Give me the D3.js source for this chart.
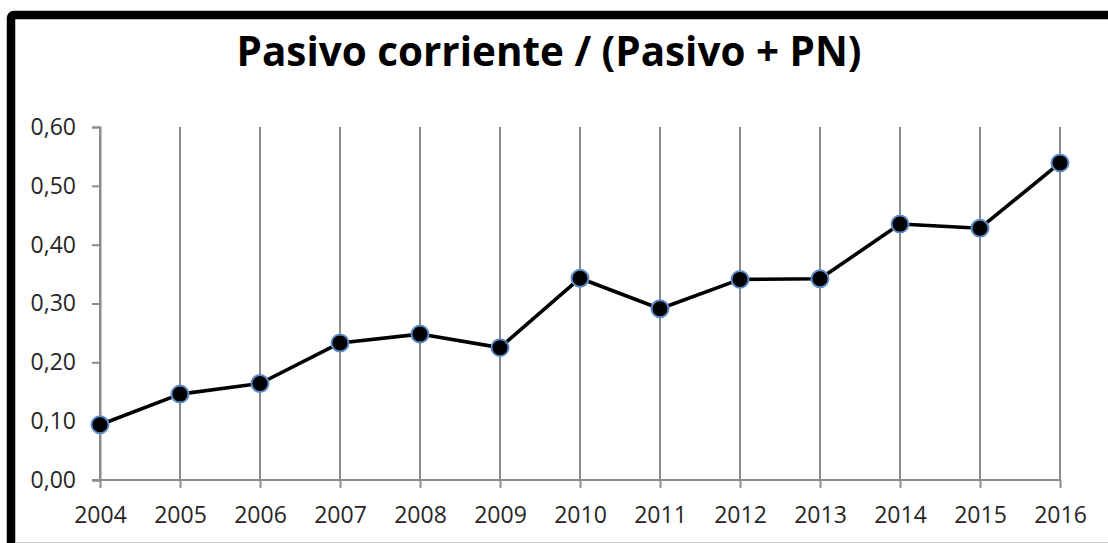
<!DOCTYPE html>
<html>
<head>
<meta charset="utf-8">
<script src="https://cdn.jsdelivr.net/npm/d3@7"></script>
<style>
  html, body { margin: 0; padding: 0; background: #fff; overflow: hidden; }
  svg { display: block; }
</style>
</head>
<body>
<div id="chart"></div>
<script>
const years = ["2004", "2005", "2006", "2007", "2008", "2009", "2010", "2011", "2012", "2013", "2014", "2015", "2016"];
const ratio = [0.094, 0.146, 0.164, 0.233, 0.248, 0.225, 0.343, 0.291, 0.341, 0.342, 0.435, 0.428, 0.539];
const yTicks = [0, 0.1, 0.2, 0.3, 0.4, 0.5, 0.6];
const titleText = "Pasivo corriente / (Pasivo + PN)";

const W = 1108, H = 543;
const svg = d3.select("#chart").append("svg")
    .attr("width", W)
    .attr("height", H);

// outer frame (thick black, cropped on right/bottom)
svg.append("rect")
    .attr("x", 11).attr("y", 15)
    .attr("width", 1300).attr("height", 700)
    .attr("rx", 3)
    .attr("fill", "none")
    .attr("stroke", "#000")
    .attr("stroke-width", 8.5);
svg.append("line")
    .attr("x1", 15).attr("x2", W)
    .attr("y1", 542.5).attr("y2", 542.5)
    .attr("stroke", "#c8c8c8")
    .attr("stroke-width", 1);

const x = d3.scalePoint().domain(years).range([100, 1060]);
const y = d3.scaleLinear().domain([0, 0.6]).range([480, 127]);

const gridColor = "#8c8c8c";
const labelFont = "'Open Sans', sans-serif";

// vertical gridlines at each year
svg.append("g")
    .selectAll("line")
    .data(years)
    .join("line")
    .attr("x1", d => x(d)).attr("x2", d => x(d))
    .attr("y1", y(0.6)).attr("y2", y(0))
    .attr("stroke", gridColor)
    .attr("stroke-width", 2);

// y axis
const yAxis = svg.append("g")
    .attr("transform", `translate(${x(years[0])},0)`)
    .call(d3.axisLeft(y).tickValues(yTicks).tickSize(8).tickPadding(16)
        .tickFormat(d => d.toFixed(2).replace(".", ",")));
yAxis.select(".domain").attr("stroke", gridColor).attr("stroke-width", 2);
yAxis.selectAll(".tick line").attr("stroke", gridColor).attr("stroke-width", 2);
yAxis.selectAll("text")
    .attr("fill", "#262626")
    .style("font-family", labelFont)
    .style("font-size", "23px");

// x axis
const xAxis = svg.append("g")
    .attr("transform", `translate(0,${y(0)})`)
    .call(d3.axisBottom(x).tickSize(8).tickPadding(19).tickSizeOuter(0));
xAxis.select(".domain")
    .attr("d", `M${x(years[0]) - 8},0H${x(years[years.length - 1])}`)
    .attr("stroke", gridColor).attr("stroke-width", 2);
xAxis.selectAll(".tick line").attr("stroke", gridColor).attr("stroke-width", 2);
xAxis.selectAll("text")
    .attr("fill", "#262626")
    .style("font-family", labelFont)
    .style("font-size", "23px");

// line
const line = d3.line()
    .x((d, i) => x(years[i]))
    .y(d => y(d));
svg.append("path")
    .datum(ratio)
    .attr("d", line)
    .attr("fill", "none")
    .attr("stroke", "#000")
    .attr("stroke-width", 3.6)
    .attr("stroke-linejoin", "round");

// markers
svg.append("g")
    .selectAll("circle")
    .data(ratio)
    .join("circle")
    .attr("cx", (d, i) => x(years[i]))
    .attr("cy", d => y(d))
    .attr("r", 8.5)
    .attr("fill", "#000")
    .attr("stroke", "#5b8cc8")
    .attr("stroke-width", 2);

// title, sized to the reference width
const title = svg.append("text")
    .attr("x", 549)
    .attr("y", 66)
    .attr("text-anchor", "middle")
    .style("font-family", labelFont)
    .style("font-weight", "bold")
    .style("font-size", "40px")
    .attr("fill", "#000")
    .text(titleText);
const tw = title.node().getComputedTextLength();
title.style("font-size", (40 * 625 / tw) + "px");
</script>
</body>
</html>
